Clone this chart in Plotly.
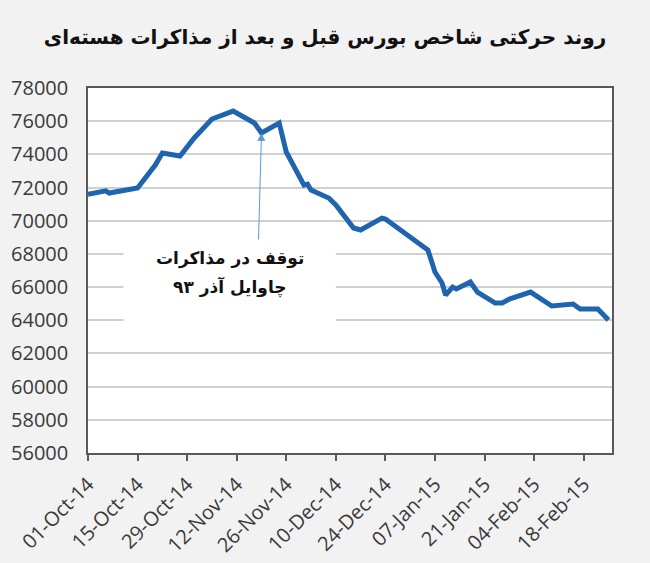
import plotly.graph_objects as go

# تاریخ و مقدار شاخص بورس (خوانده شده از تصویر)
dates = ["2014-10-01", "2014-10-06", "2014-10-07", "2014-10-10", "2014-10-15",
         "2014-10-20", "2014-10-22", "2014-10-27", "2014-10-31", "2014-11-05",
         "2014-11-11", "2014-11-17", "2014-11-19", "2014-11-24", "2014-11-26",
         "2014-12-01", "2014-12-02", "2014-12-03", "2014-12-08", "2014-12-10",
         "2014-12-15", "2014-12-17", "2014-12-23", "2014-12-24", "2014-12-29",
         "2015-01-05", "2015-01-07", "2015-01-09", "2015-01-10", "2015-01-12",
         "2015-01-13", "2015-01-17", "2015-01-19", "2015-01-24", "2015-01-26",
         "2015-01-28", "2015-02-03", "2015-02-09", "2015-02-15", "2015-02-17",
         "2015-02-22", "2015-02-25"]
index_values = [71600, 71800, 71670, 71790, 71970,
                73360, 74080, 73900, 74990, 76130,
                76610, 75890, 75290, 75890, 74140,
                72150, 72210, 71850, 71370, 70950,
                69560, 69440, 70160, 70100, 69320,
                68240, 66910, 66250, 65520, 66000,
                65890, 66310, 65700, 65040, 65040,
                65280, 65700, 64860, 64980, 64680,
                64680, 64020]

title_text = "روند حرکتی شاخص بورس قبل و بعد از مذاکرات هسته‌ای"
note_lines = ["توقف در مذاکرات", "چاوایل آذر ۹۳"]
note_date = "2014-11-19"
note_value = 75290

fig = go.Figure()
fig.add_trace(go.Scatter(x=dates, y=index_values, mode="lines",
                         line=dict(color="#1f64ae", width=5),
                         showlegend=False, hoverinfo="skip"))

# کادر سفید متن
fig.add_shape(type="rect", xref="x", yref="y",
              x0="2014-10-11", x1="2014-12-10", y0=63900, y1=68840,
              fillcolor="white", line=dict(width=0), layer="above")

for line_text, line_y in zip(note_lines, [67750, 66000]):
    fig.add_annotation(x="2014-11-10", y=line_y, xref="x", yref="y",
                       text="<b>" + line_text + "</b>", showarrow=False,
                       font=dict(family="DejaVu Sans", size=17, color="#111111"))

fig.add_annotation(x=note_date, y=note_value, xref="x", yref="y",
                   text="", showarrow=True, ax=-3, ay=108,
                   arrowhead=2, arrowsize=1.6, arrowwidth=1,
                   arrowcolor="#5b9bd5")

fig.update_layout(
    width=650, height=563,
    margin=dict(l=88, r=38, t=88, b=110),
    paper_bgcolor="#f2f2f2", plot_bgcolor="white",
    title=dict(text="<b>" + title_text + "</b>", x=0.5, xanchor="center",
               y=0.935, yanchor="middle",
               font=dict(family="DejaVu Sans", size=20, color="#111111")),
    font=dict(family="Open Sans", color="#404040"),
)

fig.update_xaxes(type="date", range=["2014-10-01", "2015-02-26"],
                 tick0="2014-10-01", dtick=14 * 86400000,
                 tickformat="%d-%b-%y", tickangle=-45,
                 tickfont=dict(size=20, color="#3a3a3a"),
                 ticklabelstandoff=4, automargin=False,
                 ticks="outside", ticklen=6, tickcolor="#595959", tickwidth=1.5,
                 showgrid=False, showline=True, linecolor="#595959",
                 linewidth=1.5, mirror=True, zeroline=False)

fig.update_yaxes(range=[56000, 78000], dtick=2000, tickformat="d",
                 tickfont=dict(size=20, color="#3a3a3a"),
                 ticklabelstandoff=14, automargin=False,
                 showgrid=True, gridcolor="#d0d0d0", gridwidth=1.5,
                 showline=True, linecolor="#595959", linewidth=1.5,
                 mirror=True, zeroline=False, ticks="")

fig.write_html("out.html", config={"displayModeBar": False},
               post_script="document.body.style.margin='0';")
